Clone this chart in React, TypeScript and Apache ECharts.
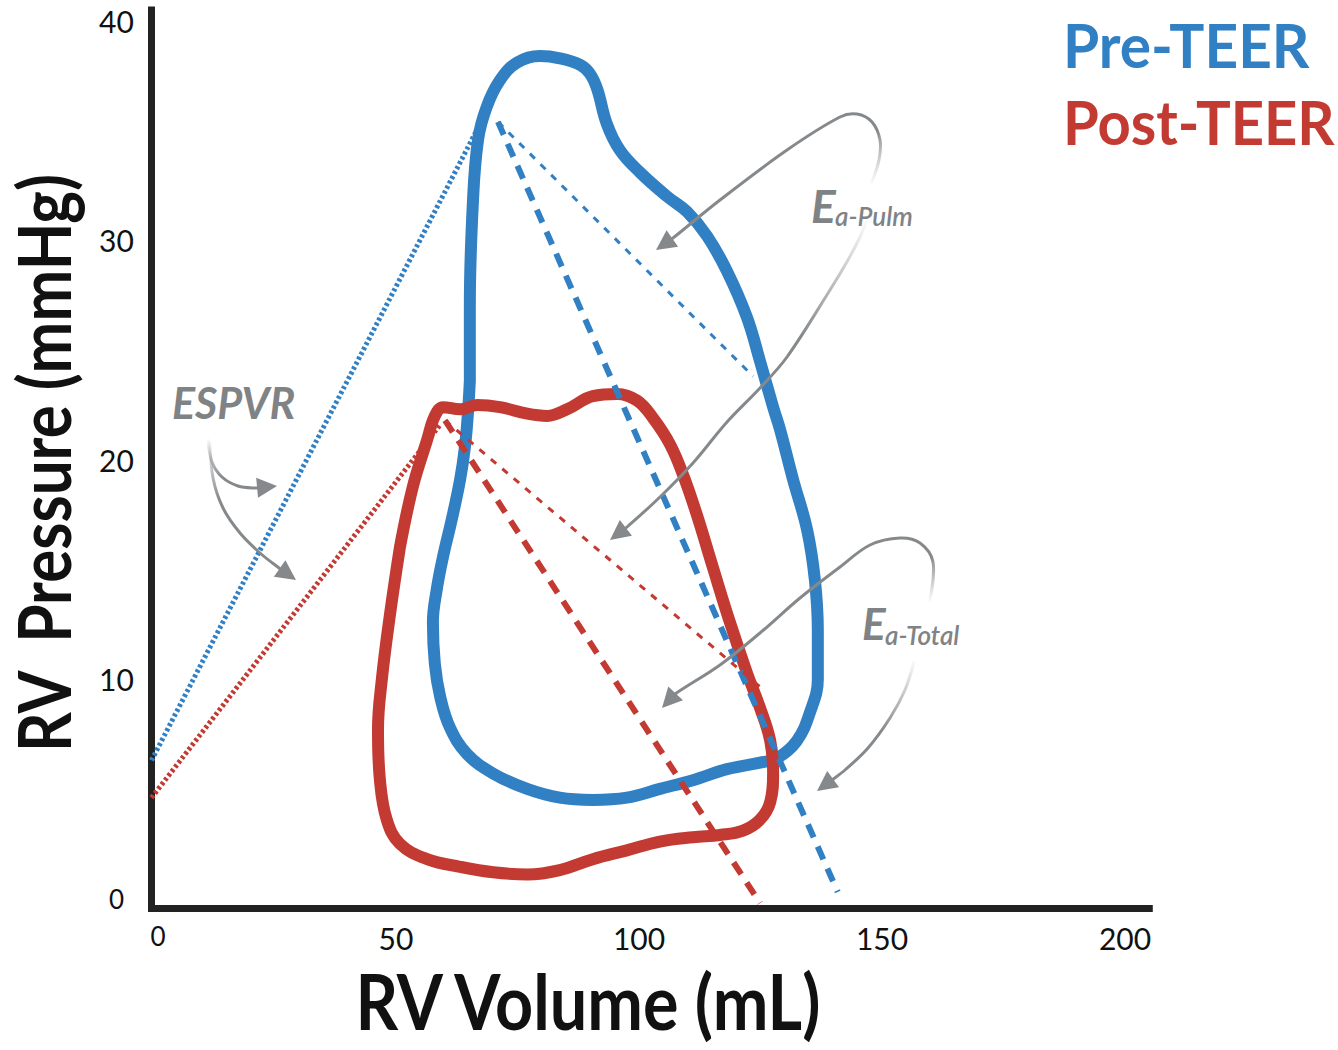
import React, { useEffect, useRef } from "react";
import * as echarts from "echarts";

// ---------- data ----------
const xTicks = [0, 50, 100, 150, 200];
const yTicks = [0, 10, 20, 30, 40];

// Pre-TEER pressure-volume loop [volume mL, pressure mmHg]
const preTeerLoop = [
  [65.2, 23.6], [65.2, 27.0], [65.8, 31.6], [66.9, 34.6], [68.7, 36.1], [71.4, 37.3],
  [74.9, 38.1], [79.6, 38.4], [83.7, 38.3], [87.9, 38.0], [89.9, 37.6], [91.4, 36.9],
  [93.4, 35.3], [96.1, 34.1], [100.2, 33.1], [105.8, 32.0], [109.9, 31.3], [114.0, 30.2],
  [118.1, 28.6], [122.2, 26.5], [124.9, 24.5], [127.6, 22.4], [129.0, 21.4], [131.7, 19.1],
  [134.6, 16.8], [136.2, 14.5], [136.8, 12.2], [136.8, 10.0], [135.2, 8.5], [132.5, 7.2],
  [128.4, 6.4], [124.9, 6.2], [118.1, 5.9], [111.1, 5.4], [104.3, 5.0], [97.5, 4.6],
  [90.5, 4.5], [83.7, 4.6], [77.0, 5.0], [70.0, 5.7], [64.6, 6.6], [61.1, 7.8],
  [59.1, 9.2], [58.0, 10.7], [57.6, 12.6], [58.4, 14.1], [59.7, 15.6], [61.5, 17.3],
  [63.2, 19.1], [64.2, 20.6], [64.8, 22.1], [65.2, 23.6],
];

// Post-TEER pressure-volume loop
const postTeerLoop = [
  [50.8, 16.0], [53.5, 18.8], [56.4, 20.9], [58.0, 22.0], [59.7, 22.4], [63.2, 22.3],
  [66.7, 22.5], [71.4, 22.4], [77.0, 22.1], [81.1, 22.0], [85.2, 22.3], [90.5, 22.9],
  [95.5, 23.0], [99.6, 22.7], [102.9, 21.9], [106.4, 20.7], [109.1, 19.3], [111.9, 17.5],
  [115.2, 15.1], [118.7, 12.6], [122.2, 10.3], [124.9, 8.7], [127.0, 7.2], [127.6, 5.7],
  [127.0, 4.4], [124.9, 3.6], [121.4, 3.1], [116.7, 2.9], [111.1, 2.8], [104.3, 2.6],
  [97.5, 2.2], [90.5, 1.8], [83.7, 1.3], [77.0, 1.1], [70.0, 1.2], [63.2, 1.45],
  [56.4, 1.8], [50.8, 2.5], [48.1, 3.6], [46.7, 5.4], [46.3, 7.7], [47.1, 10.0],
  [48.8, 13.0], [50.8, 16.0],
];

// ESPVR lines
const preEspvr = [[-0.3, 6.3], [67.5, 35.4]];
const postEspvr = [[-0.3, 4.6], [59.1, 21.6]];
// Effective arterial elastance lines
const preEaTotal = [[71.0, 35.4], [140.9, 0.3]];
const preEaPulm = [[71.0, 35.4], [123.5, 23.8]];
const postEaTotal = [[60.1, 21.8], [124.9, -0.2]];
const postEaPulm = [[60.1, 21.8], [124.9, 9.65]];

// ---------- styling ----------
const BLUE = "#3280c4";
const RED = "#c33a32";
const GRAY = "#86898b";
const TEXT_GRAY = "#7f8386";
const FONT = "Lato, 'Noto Sans', sans-serif";

type P = [number, number];

function arrow(points: P[], tip: P, fadeEnd: P) {
  const last = points[points.length - 1];
  let dx = tip[0] - last[0];
  let dy = tip[1] - last[1];
  const len = Math.hypot(dx, dy) || 1;
  dx /= len;
  dy /= len;
  const headLen = 20;
  const half = 10;
  const bx = tip[0] - headLen * dx;
  const by = tip[1] - headLen * dy;
  const nx = -dy;
  const ny = dx;
  const start = points[0];
  const stroke = new echarts.graphic.LinearGradient(
    start[0], start[1], fadeEnd[0], fadeEnd[1],
    [
      { offset: 0, color: "rgba(134,137,139,0.05)" },
      { offset: 1, color: GRAY },
    ],
    true
  );
  return [
    {
      type: "polyline",
      silent: true,
      shape: { points: [...points, [tip[0] - 12 * dx, tip[1] - 12 * dy]], smooth: 0.35 },
      style: { stroke, lineWidth: 3, fill: null, lineCap: "round" },
      z: 50,
    },
    {
      type: "polygon",
      silent: true,
      shape: {
        points: [
          tip,
          [bx + half * nx, by + half * ny],
          [bx - half * nx, by - half * ny],
        ],
      },
      style: { fill: GRAY, stroke: null },
      z: 51,
    },
  ];
}

function txt(
  text: string, x: number, y: number, size: number, color: string,
  opts: { weight?: string | number; italic?: boolean; align?: string; rotation?: number; scaleX?: number } = {}
) {
  return {
    type: "text",
    silent: true,
    x,
    y,
    rotation: opts.rotation || 0,
    scaleX: opts.scaleX || 1,
    z: 60,
    style: {
      text,
      fill: color,
      fontSize: size,
      fontFamily: FONT,
      fontWeight: opts.weight || "bold",
      fontStyle: opts.italic ? "italic" : "normal",
      align: opts.align || "left",
      textAlign: opts.align || "left",
      verticalAlign: "middle",
      textVerticalAlign: "middle",
    },
  };
}

function lineSeries(data: number[][], color: string, width: number, type: any, smooth: number | boolean = false) {
  const solid = type === "solid";
  return {
    type: "line",
    data,
    smooth,
    showSymbol: false,
    symbol: "none",
    silent: true,
    clip: false,
    lineStyle: { color, width, type, cap: solid ? "round" : "butt", join: "round" },
  };
}

export default function App() {
  const ref = useRef<HTMLDivElement>(null);

  useEffect(() => {
    if (!ref.current) return;
    const chart = echarts.init(ref.current, undefined, { renderer: "svg" });

    const richX = {
      s: { fontSize: 26, fontFamily: FONT, color: "#111", padding: [0, 0, 0, 10] },
      b: { fontSize: 30, fontFamily: FONT, color: "#111" },
    };
    const richY = {
      s: { fontSize: 26, fontFamily: FONT, color: "#111" },
      b: { fontSize: 30, fontFamily: FONT, color: "#111" },
    };
    const fmt = (v: number) => (v === 0 ? "{s|0}" : "{b|" + v + "}");

    const graphic: any[] = [
      txt("Pre-TEER", 1063, 44, 62, BLUE, { scaleX: 0.945 }),
      txt("Post-TEER", 1063, 121, 62, RED, { scaleX: 0.935 }),
      txt("RV Volume (mL)", 588, 1001, 76, "#111", { align: "center", scaleX: 0.875 }),
      txt("RV  Pressure (mmHg)", 43, 463, 72, "#111", { align: "center", rotation: Math.PI / 2, scaleX: 0.86 }),
      txt("ESPVR", 172, 402, 43, TEXT_GRAY, { italic: true }),
      txt("E", 811, 205, 46, TEXT_GRAY, { italic: true }),
      txt("a-Pulm", 835, 216, 26, TEXT_GRAY, { italic: true, weight: 600 }),
      txt("E", 862, 623, 44, TEXT_GRAY, { italic: true }),
      txt("a-Total", 885, 635, 26, TEXT_GRAY, { italic: true, weight: 600 }),
      ...arrow([[208, 440], [212, 462], [222, 477], [238, 486], [255, 488]], [277, 486], [222, 477]),
      ...arrow([[210, 442], [213, 478], [223, 508], [240, 533], [260, 553], [279, 568]], [296, 580], [218, 500]),
      ...arrow(
        [[872, 182], [879, 160], [880, 140], [872, 122], [857, 114], [840, 117], [787, 150], [720, 200], [673, 238]],
        [656, 250], [850, 150]
      ),
      ...arrow(
        [[866, 222], [860, 237], [848, 260], [830, 290], [787, 357], [760, 388], [727, 422], [693, 463], [660, 497], [627, 527]],
        [610, 540], [800, 335]
      ),
      ...arrow(
        [[930, 600], [933, 562], [920, 543], [900, 538], [870, 545], [840, 567], [800, 598], [760, 633], [720, 665], [675, 694]],
        [662, 708], [910, 575]
      ),
      ...arrow([[914, 662], [905, 690], [890, 718], [868, 748], [845, 770], [832, 780]], [817, 791], [880, 730]),
    ];

    chart.setOption({
      animation: false,
      backgroundColor: "#ffffff",
      grid: { left: 151.5, top: 10, width: 997.8, height: 898.5, containLabel: false },
      xAxis: {
        type: "value",
        min: -0.3,
        max: 205,
        splitLine: { show: false },
        axisTick: { show: false },
        axisLine: { show: true, onZero: false, lineStyle: { color: "#222", width: 7, cap: "square" } },
        axisLabel: { customValues: xTicks, formatter: fmt, rich: richX, margin: 14, fontFamily: FONT },
      },
      yAxis: {
        type: "value",
        min: -0.45,
        max: 40.5,
        splitLine: { show: false },
        axisTick: { show: false },
        axisLine: { show: true, onZero: false, lineStyle: { color: "#222", width: 7, cap: "square" } },
        axisLabel: {
          customValues: yTicks,
          formatter: fmt,
          rich: richY,
          margin: 35,
          align: "center",
          fontFamily: FONT,
        },
      },
      series: [
        lineSeries(preTeerLoop, BLUE, 12, "solid", 0.4),
        lineSeries(postTeerLoop, RED, 12, "solid", 0.4),
        lineSeries(preEspvr, BLUE, 5, [3, 2.5]),
        lineSeries(postEspvr, RED, 5, [3, 2.5]),
        lineSeries(preEaTotal, BLUE, 6, [14, 10]),
        lineSeries(preEaPulm, BLUE, 3, [7, 8]),
        lineSeries(postEaTotal, RED, 6, [14, 10]),
        lineSeries(postEaPulm, RED, 3, [7, 8]),
      ],
      graphic,
    });

    return () => chart.dispose();
  }, []);

  return (
    <div
      ref={ref}
      style={{ position: "fixed", left: 0, top: 0, width: 1338, height: 1050, background: "#fff" }}
    />
  );
}
